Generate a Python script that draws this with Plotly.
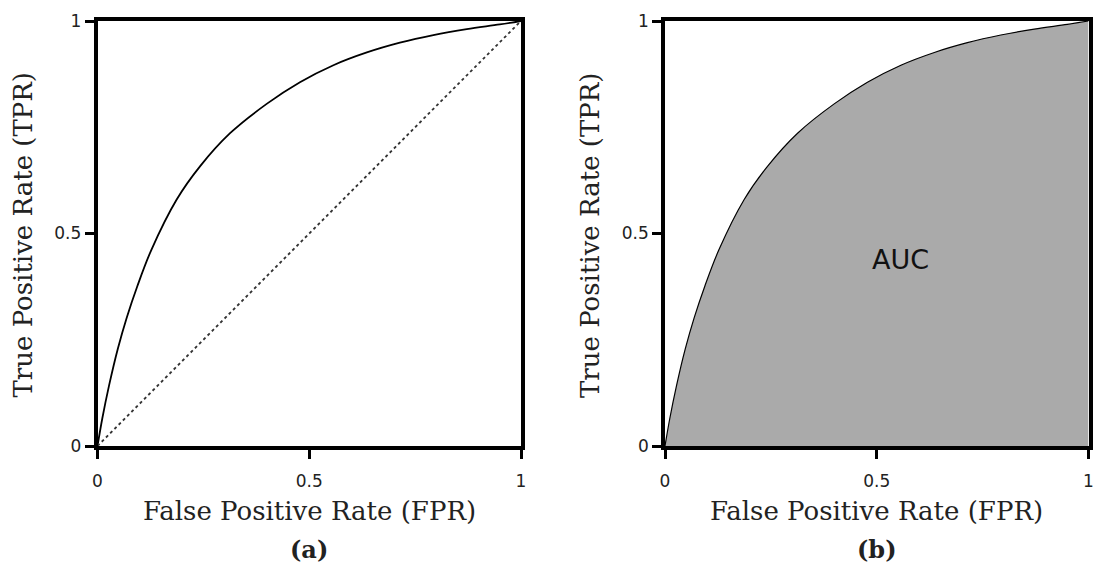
import plotly.graph_objects as go

# ROC curve
fpr = [0.0, 0.0113, 0.0272, 0.048, 0.069, 0.094, 0.127, 0.187, 0.242, 0.313, 0.3995, 0.478,
       0.557, 0.636, 0.714, 0.793, 0.872, 0.950, 1.0]
tpr = [0.0, 0.0647, 0.142, 0.229, 0.302, 0.376, 0.461, 0.580, 0.658, 0.736, 0.805, 0.856,
       0.896, 0.926, 0.949, 0.967, 0.981, 0.992, 1.0]
diag_x = [0.0, 1.0]
diag_y = [0.0, 1.0]
tick_vals = [0, 0.5, 1]
tick_text = ["0", "0.5", "1"]
x_title = "False Positive Rate (FPR)"
y_title = "True Positive Rate (TPR)"
panel_labels = ["<b>(a)</b>", "<b>(b)</b>"]
auc_label = "AUC"
auc_pos = (0.555, 0.44)

W, H = 1095, 568

fig = go.Figure()

fig.add_trace(go.Scatter(x=fpr, y=tpr, mode="lines",
                         line=dict(color="black", width=1.8, shape="spline", smoothing=1.0),
                         xaxis="x", yaxis="y", showlegend=False, hoverinfo="skip"))
fig.add_trace(go.Scatter(x=diag_x, y=diag_y, mode="lines", line=dict(color="#333333", width=1.8, dash="dot"),
                         xaxis="x", yaxis="y", showlegend=False, hoverinfo="skip"))
fig.add_trace(go.Scatter(x=fpr, y=tpr, mode="lines", fill="tozeroy", fillcolor="#aaaaaa",
                         line=dict(color="black", width=1.2, shape="spline", smoothing=1.0),
                         xaxis="x2", yaxis="y2", showlegend=False, hoverinfo="skip"))

ydom = [1 - 446 / H, 1 - 21 / H]
xdom1 = [97.5 / W, 521 / W]
xdom2 = [665 / W, 1088.5 / W]

axis_common = dict(range=[0, 1], tickvals=tick_vals, ticktext=tick_text, showgrid=False, zeroline=False,
                   showline=True, mirror=True, linecolor="black", linewidth=3.5, automargin=False,
                   ticks="outside", ticklen=9, tickwidth=3, tickcolor="black",
                   tickfont=dict(family="DejaVu Sans", size=17, color="#222222"))

fig.update_layout(
    width=W, height=H,
    margin=dict(l=0, r=0, t=0, b=0, pad=0),
    paper_bgcolor="white", plot_bgcolor="white",
    xaxis=dict(domain=xdom1, anchor="y", ticklabelstandoff=8, **axis_common),
    yaxis=dict(domain=ydom, anchor="x", **axis_common),
    xaxis2=dict(domain=xdom2, anchor="y2", ticklabelstandoff=8, **axis_common),
    yaxis2=dict(domain=ydom, anchor="x2", **axis_common),
)

serif = "DejaVu Serif"
ann = []
for xd, lab in zip([xdom1, xdom2], panel_labels):
    cx = (xd[0] + xd[1]) / 2
    ann.append(dict(text=x_title, x=cx, y=1 - 511 / H, xref="paper", yref="paper", showarrow=False,
                    xanchor="center", yanchor="middle", font=dict(family=serif, size=26, color="#222222")))
    ann.append(dict(text=lab, x=cx, y=1 - 549 / H, xref="paper", yref="paper", showarrow=False,
                    xanchor="center", yanchor="middle", font=dict(family=serif, size=24, color="#222222")))
    ann.append(dict(text=y_title, x=(xd[0] * W - 75) / W, y=1 - 235 / H, xref="paper", yref="paper",
                    showarrow=False, textangle=-90, xanchor="center", yanchor="middle",
                    font=dict(family=serif, size=26, color="#222222")))
ann.append(dict(text=auc_label, x=auc_pos[0], y=auc_pos[1], xref="x2", yref="y2", showarrow=False,
                xanchor="center", yanchor="middle", font=dict(family="DejaVu Sans", size=27, color="#111111")))
fig.update_layout(annotations=ann)

fig.write_html("out.html")
